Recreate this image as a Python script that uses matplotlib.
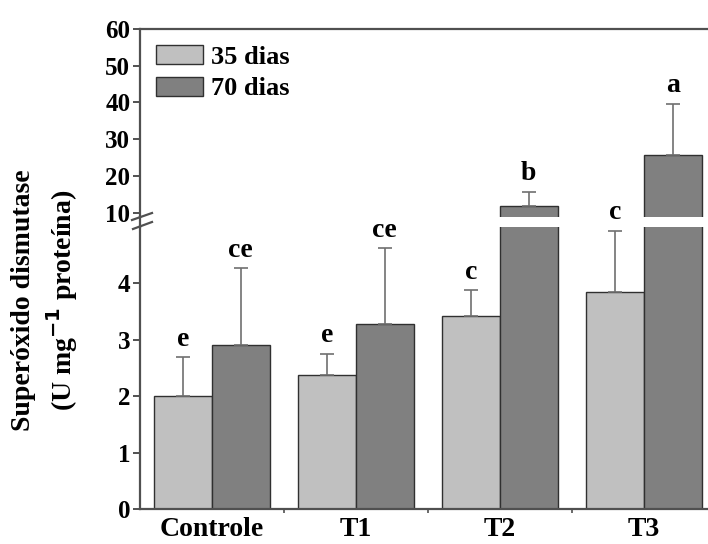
import numpy as np
import matplotlib.pyplot as plt
from matplotlib.lines import Line2D

groups = ['Controle', 'T1', 'T2', 'T3']
mean_35 = [2.00, 2.38, 3.42, 3.84]
err_35 = [0.69, 0.37, 0.46, 1.09]
mean_70 = [2.91, 3.28, 11.8, 25.7]
err_70 = [1.36, 1.34, 3.8, 13.9]
letters_35 = ['e', 'e', 'c', 'c']
letters_70 = ['ce', 'ce', 'b', 'a']

plt.rcParams['font.family'] = ['Liberation Serif', 'DejaVu Serif']
plt.rcParams['font.weight'] = 'bold'

c35 = '#c0c0c0'
c70 = '#808080'
edge = '#303030'
spine = '#505050'

fig = plt.figure(figsize=(7.08, 5.44), dpi=100)
ax_top = fig.add_axes([140 / 708, 1 - 217 / 544, 1 - 140 / 708, (217 - 29) / 544])
ax_bot = fig.add_axes([140 / 708, 1 - 509 / 544, 1 - 140 / 708, (509 - 227) / 544])

x = np.arange(1, len(groups) + 1)
w = 0.4

for ax in (ax_top, ax_bot):
    ax.bar(x - w / 2, mean_35, w, color=c35, edgecolor=edge, linewidth=1.0, label='35 dias')
    ax.bar(x + w / 2, mean_70, w, color=c70, edgecolor=edge, linewidth=1.0, label='70 dias')
    ax.errorbar(x - w / 2, mean_35, yerr=[np.zeros(4), err_35], fmt='none',
                ecolor='#707070', elinewidth=1.2, capsize=5, capthick=1.2)
    ax.errorbar(x + w / 2, mean_70, yerr=[np.zeros(4), err_70], fmt='none',
                ecolor='#707070', elinewidth=1.2, capsize=5, capthick=1.2)
    ax.set_xlim(0.5, 0.5 + 568 / 144)
    ax.spines['right'].set_visible(False)
    for s in ax.spines.values():
        s.set_color(spine)
        s.set_linewidth(1.6)
    ax.tick_params(axis='y', direction='out', length=5, width=1.4, color=spine,
                   labelsize=18, pad=2)

# top axis (broken part)
ax_top.set_ylim(8.8, 60)
ax_top.set_yticks([10, 20, 30, 40, 50, 60])
ax_top.spines['bottom'].set_visible(False)
ax_top.set_xticks([])
ax_top.legend(loc='upper left', frameon=False, fontsize=19, handlelength=1.8,
              handleheight=0.75, labelspacing=0.3, handletextpad=0.3,
              borderaxespad=0.2, bbox_to_anchor=(0.0, 1.0))

# bottom axis
ax_bot.set_ylim(0, 5)
ax_bot.set_yticks([0, 1, 2, 3, 4])
ax_bot.spines['top'].set_visible(False)
ax_bot.set_xticks(x)
ax_bot.set_xticklabels(groups, fontsize=20, fontweight='bold')
ax_bot.set_xticks([1.5, 2.5, 3.5], minor=True)
ax_bot.tick_params(axis='x', which='major', length=0, pad=6)
ax_bot.tick_params(axis='x', which='minor', length=3, width=1.2, color=spine)

# significance letters
for i in range(len(groups)):
    for xs, m, e, lab in ((x[i] - w / 2, mean_35[i], err_35[i], letters_35[i]),
                          (x[i] + w / 2, mean_70[i], err_70[i], letters_70[i])):
        ax = ax_bot if m + e < 5.2 else ax_top
        ax.annotate(lab, (xs, m + e), xytext=(0, 13), textcoords='offset points',
                    ha='center', va='center', fontsize=20, fontweight='bold',
                    annotation_clip=False)

# break marks on the y axis
for (x0, y0, x1, y1) in ((132, 220, 152, 213), (133, 229, 152, 222)):
    fig.add_artist(Line2D([x0 / 708, x1 / 708], [1 - y0 / 544, 1 - y1 / 544],
                          color=spine, linewidth=1.6))
fig.add_artist(Line2D([140 / 708, 140 / 708], [1 - 227 / 544, 1 - 217 / 544],
                      color=spine, linewidth=1.6))

# y label
fig.text(24 / 708, 1 - 300 / 544, 'Superóxido dismutase', rotation=90,
         ha='center', va='center', fontsize=20, fontweight='bold')
fig.text(62 / 708, 1 - 300 / 544, '(U mg$^{\\mathbf{-1}}$ proteína)', rotation=90,
         ha='center', va='center', fontsize=20, fontweight='bold')

fig.savefig('out.png', dpi=100)
